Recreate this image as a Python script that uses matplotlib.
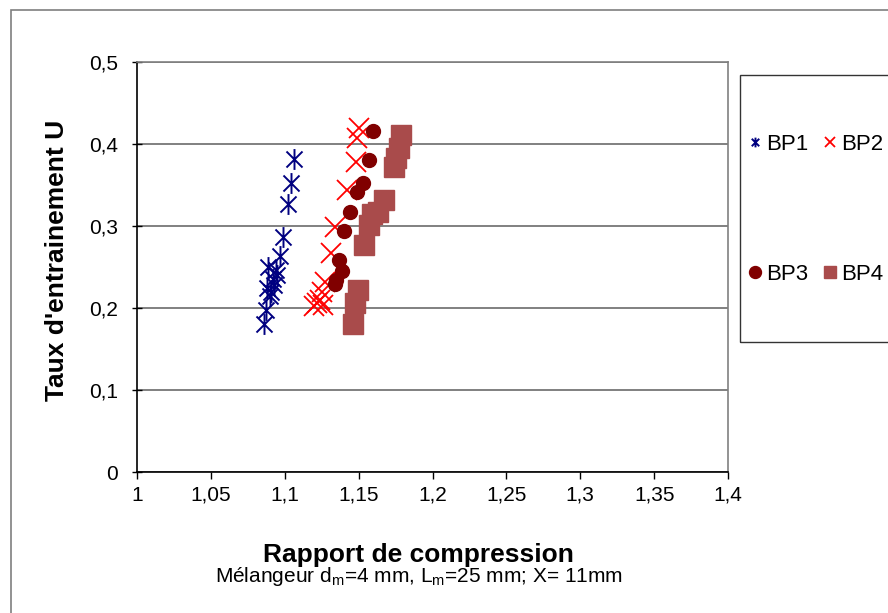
import numpy as np
import matplotlib
matplotlib.use('Agg')
import matplotlib.pyplot as plt
from matplotlib.path import Path
from matplotlib.patches import Rectangle
from matplotlib.ticker import FuncFormatter

plt.rcParams['font.family'] = ['Liberation Sans', 'DejaVu Sans']

# Data
bp1_x = [1.106, 1.104, 1.102, 1.099, 1.097, 1.094, 1.089, 1.092, 1.088, 1.091, 1.093, 1.090, 1.087, 1.086, 1.095]
bp1_y = [0.382, 0.352, 0.327, 0.287, 0.263, 0.246, 0.250, 0.235, 0.225, 0.220, 0.228, 0.215, 0.198, 0.180, 0.240]

bp2_x = [1.150, 1.149, 1.148, 1.142, 1.134, 1.131, 1.127, 1.125, 1.122, 1.120, 1.124, 1.126]
bp2_y = [0.419, 0.407, 0.378, 0.344, 0.299, 0.267, 0.232, 0.220, 0.206, 0.202, 0.210, 0.204]

bp3_x = [1.160, 1.157, 1.153, 1.149, 1.144, 1.140, 1.137, 1.1385, 1.135, 1.134]
bp3_y = [0.416, 0.381, 0.352, 0.342, 0.317, 0.294, 0.258, 0.245, 0.234, 0.229]

bp4_x = [1.1785, 1.1776, 1.1753, 1.174, 1.1674, 1.1633, 1.1588, 1.1573, 1.1536, 1.1498, 1.1475, 1.146]
bp4_y = [0.411, 0.395, 0.383, 0.372, 0.332, 0.317, 0.315, 0.301, 0.277, 0.222, 0.206, 0.181]

x_ticks = [1, 1.05, 1.1, 1.15, 1.2, 1.25, 1.3, 1.35, 1.4]
y_ticks = [0, 0.1, 0.2, 0.3, 0.4, 0.5]

# Excel-like star marker: x with a vertical bar
star = Path([(-1, -1), (1, 1), (-1, 1), (1, -1), (0, -1.3), (0, 1.3)],
            [Path.MOVETO, Path.LINETO, Path.MOVETO, Path.LINETO, Path.MOVETO, Path.LINETO])

W, H = 888, 613
fig = plt.figure(figsize=(W / 100, H / 100), dpi=100)
ax = fig.add_axes([137 / W, 1 - 472 / H, (728 - 137) / W, (472 - 62) / H])

h1, = ax.plot(bp1_x, bp1_y, linestyle='none', marker=star, markersize=15,
              markerfacecolor='none', markeredgecolor='#000080', markeredgewidth=1.4, label='BP1')
h2, = ax.plot(bp2_x, bp2_y, linestyle='none', marker='x', markersize=14,
              color='#FF0000', markeredgewidth=1.3, label='BP2')
h3, = ax.plot(bp3_x, bp3_y, linestyle='none', marker='o', markersize=10,
              color='#800000', label='BP3')
h4, = ax.plot(bp4_x, bp4_y, linestyle='none', marker='s', markersize=14,
              color='#A94B4B', label='BP4')

ax.set_xlim(1, 1.4)
ax.set_ylim(0, 0.5)
ax.set_xticks(x_ticks)
ax.set_yticks(y_ticks)

def comma(v, pos):
    s = ('%.2f' % v).rstrip('0').rstrip('.')
    return s.replace('.', ',')

ax.xaxis.set_major_formatter(FuncFormatter(comma))
ax.yaxis.set_major_formatter(FuncFormatter(comma))
ax.tick_params(axis='x', direction='out', length=5, width=1, labelsize=15, pad=5)
ax.tick_params(axis='y', direction='inout', length=7, width=1, labelsize=15, pad=10)

ax.grid(axis='y', color='#808080', linewidth=1.4)
ax.set_axisbelow(True)
ax.spines['left'].set_color('black')
ax.spines['bottom'].set_color('black')
ax.spines['top'].set_color('#808080')
ax.spines['right'].set_color('#808080')
for s in ax.spines.values():
    s.set_linewidth(1.2)

fig.text(418 / W, 1 - 562 / H, 'Rapport de compression', ha='center', va='baseline',
         fontsize=19, fontweight='bold')
fig.text(419 / W, 1 - 582 / H,
         r'Mélangeur d$_\mathregular{m}$=4 mm, L$_\mathregular{m}$=25 mm; X= 11mm',
         ha='center', va='baseline', fontsize=15)
fig.text(57 / W, 1 - 260 / H, "Taux d'entrainement U", ha='center', va='center',
         rotation=90, fontsize=19, fontweight='bold')

# chart border and legend box
fig.patches.append(Rectangle((11 / W, -0.1), 1.2, 1.1 - 10 / H, transform=fig.transFigure,
                             fill=False, edgecolor='#7f7f7f', linewidth=1.2))
fig.patches.append(Rectangle((740 / W, 1 - 342 / H), 0.3, (342 - 75) / H, transform=fig.transFigure,
                             fill=False, edgecolor='#333333', linewidth=1.0))

# legend fills column-wise, so order handles to get BP1 BP2 / BP3 BP4 rows
leg = fig.legend([h1, h3, h2, h4], ['BP1', 'BP3', 'BP2', 'BP4'], ncol=2, frameon=False,
                 loc='upper left', bbox_to_anchor=(746 / W, 1 - 134 / H), fontsize=16,
                 handlelength=0.8, handletextpad=0.12, columnspacing=0.55,
                 labelspacing=4.9, borderpad=0, borderaxespad=0)
for hd, ms in zip(leg.legend_handles, [7, 8.6, 7.2, 8.6]):
    hd.set_markersize(ms)

fig.savefig('out.png', dpi=100)
